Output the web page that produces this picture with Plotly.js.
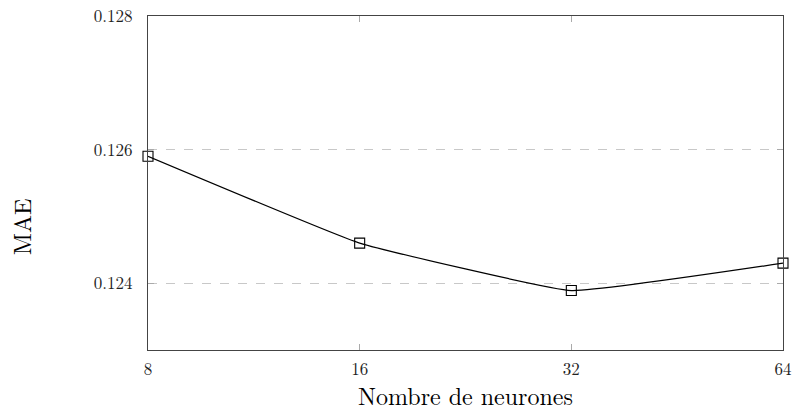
<!DOCTYPE html>
<html>
<head>
<meta charset="utf-8">
<script src="https://cdn.plot.ly/plotly-3.0.1.min.js"></script>
<style>html,body{margin:0;padding:0;background:#fff;}#chart{width:795px;height:412px;}</style>
</head>
<body>
<div id="chart"></div>
<script>
const neurons = ["8", "16", "32", "64"];
const mae = [0.12590, 0.12460, 0.12389, 0.12430];
const yTicks = [0.124, 0.126, 0.128];
const yTickLabels = ["0.124", "0.126", "0.128"];
const xTitle = "Nombre de neurones";
const yTitle = "MAE";

const font = "'Latin Modern Roman', 'DejaVu Serif', serif";

Plotly.newPlot('chart', [{
  x: neurons,
  y: mae,
  type: 'scatter',
  mode: 'lines+markers',
  line: {color: '#000', width: 1.2, shape: 'spline', smoothing: 0.3},
  marker: {symbol: 'square-open', size: 10, color: '#000', line: {width: 1.1, color: '#000'}},
  cliponaxis: false
}], {
  width: 795, height: 412,
  margin: {l: 148, r: 12, t: 16, b: 62},
  paper_bgcolor: '#fff', plot_bgcolor: '#fff',
  showlegend: false,
  font: {family: font, color: '#000'},
  xaxis: {
    type: 'category',
    range: [0, 3],
    showline: true, linecolor: '#444', linewidth: 1.2, mirror: 'allticks',
    ticks: 'inside', ticklen: 6, tickcolor: '#aaa', tickwidth: 1,
    ticklabelstandoff: 3,
    showgrid: false, zeroline: false,
    tickfont: {size: 17, family: font, color: '#222'},
    title: {text: xTitle, font: {size: 24, family: font}, standoff: 11}
  },
  yaxis: {
    range: [0.123, 0.128],
    tickvals: yTicks, ticktext: yTickLabels,
    showline: true, linecolor: '#444', linewidth: 1.2, mirror: 'allticks',
    ticks: 'inside', ticklen: 6, tickcolor: '#aaa', tickwidth: 1,
    ticklabelstandoff: 11,
    showgrid: true, gridcolor: '#c8c8c8', griddash: 'dash', gridwidth: 1,
    zeroline: false,
    tickfont: {size: 17, family: font, color: '#222'}
  },
  annotations: [{
    text: yTitle, textangle: -90, showarrow: false,
    xref: 'paper', yref: 'paper', x: -0.2, y: 0.368,
    xanchor: 'center', yanchor: 'middle',
    font: {size: 24, family: font, color: '#000'}
  }]
}, {displayModeBar: false, staticPlot: true});
</script>
</body>
</html>
